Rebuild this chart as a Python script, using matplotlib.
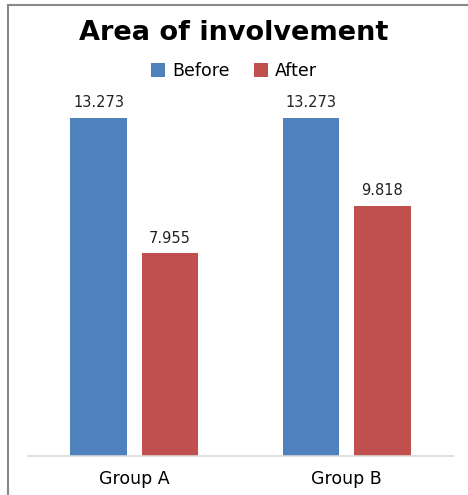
import matplotlib.pyplot as plt
from matplotlib.lines import Line2D
import numpy as np

groups = ["Group A", "Group B"]
before = [13.273, 13.273]
after = [7.955, 9.818]
series_names = ["Before", "After"]

W, H = 468, 495
fig = plt.figure(figsize=(W / 100, H / 100), dpi=100)
ax = fig.add_axes([28 / W, 1 - 456 / H, 425 / W, (456 - 99.4) / H])

x = np.arange(len(groups))
bw = 0.265
b1 = ax.bar(x - 0.168, before, bw, color="#4F81BD", label=series_names[0])
b2 = ax.bar(x + 0.168, after, bw, color="#C0504D", label=series_names[1])

for bars, vals in ((b1, before), (b2, after)):
    for r, v in zip(bars, vals):
        ax.text(r.get_x() + r.get_width() / 2, v + 0.3, f"{v:.3f}",
                ha="center", va="bottom", fontsize=10.5, color="#222222")

ax.set_xlim(-0.5, 1.5)
ax.set_ylim(0, 14)
ax.set_yticks([])
ax.set_xticks(x)
ax.set_xticklabels(groups, fontsize=12.5)
ax.tick_params(axis="x", length=0, pad=10)
for s in ["top", "right", "left"]:
    ax.spines[s].set_visible(False)
ax.spines["bottom"].set_color("#D9D9D9")
ax.spines["bottom"].set_linewidth(1.2)

fig.text(0.5, 1 - 33 / H, "Area of involvement", ha="center", va="center",
         fontsize=19.5, fontweight="bold")
fig.legend(handles=[b1, b2], loc="center", bbox_to_anchor=(0.5, 1 - 71 / H),
           ncol=2, frameon=False, fontsize=12.5, handlelength=0.8, handleheight=0.8,
           columnspacing=1.4, handletextpad=0.4)

# outer frame (left and top edges)
fig.add_artist(Line2D([8 / W, 8 / W], [0, 1 - 5 / H], color="#888888", lw=1.5,
                      transform=fig.transFigure))
fig.add_artist(Line2D([8 / W, 1], [1 - 5 / H, 1 - 5 / H], color="#888888", lw=1.5,
                      transform=fig.transFigure))

fig.savefig("out.png", dpi=100)
